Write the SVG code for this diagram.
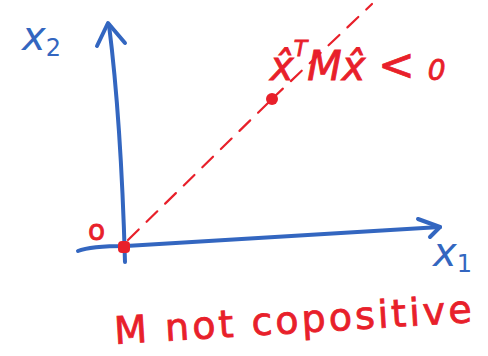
<svg xmlns="http://www.w3.org/2000/svg" width="488" height="356" viewBox="0 0 488 356">
<style>
.ax{fill:none;stroke:#3366c0;stroke-width:4;stroke-linecap:round;stroke-linejoin:round}
.bl{fill:#3366c0;font-family:"DejaVu Sans",sans-serif;font-style:italic}
.rd{fill:#e8202a;font-family:"DejaVu Sans",sans-serif;stroke:#e8202a;stroke-width:0.8}
.dash{fill:none;stroke:#e8202a;stroke-width:2.2;stroke-linecap:round;stroke-dasharray:15 11}
</style>
<rect width="488" height="356" fill="#fff"/>
<g id="connectors">
<path class="dash" d="M128 240 L272 99"/>
<path class="dash" d="M272 99 L372 4" stroke-dasharray="3 14 9 12 8 12"/>
</g>
<g id="y-axis">
<path class="ax" d="M125 262 Q121 120 109 25"/>
<path class="ax" d="M97 46 L108 23 L125 43"/>
<text class="bl" x="22" y="50" font-size="40">x<tspan font-size="24" dy="6" font-style="normal">2</tspan></text>
</g>
<g id="x-axis">
<path class="ax" d="M78 251 Q90 246 126 246 Q300 236 440 227"/>
<path class="ax" d="M418 219 L440 227 L430 237"/>
<text class="bl" x="433" y="266" font-size="40">x<tspan font-size="24" dy="6" font-style="normal">1</tspan></text>
</g>
<g id="origin">
<rect x="118" y="241" width="12" height="12" rx="4" fill="#e8202a"/>
<text class="rd" x="88" y="240" font-size="28">o</text>
</g>
<g id="point">
<circle cx="272" cy="99" r="6" fill="#e8202a"/>
<text class="rd" x="270" y="80" font-size="40" font-style="italic">x̂<tspan font-size="22" dy="-24">T</tspan><tspan dy="24">M</tspan>x̂ <tspan font-size="44">&lt;</tspan> <tspan font-size="28">0</tspan></text>
</g>
<g id="caption">
<text class="rd" x="115" y="344" font-size="38" textLength="358" lengthAdjust="spacing" transform="rotate(-3.5 115 344)">M not copositive</text>
</g>
</svg>
